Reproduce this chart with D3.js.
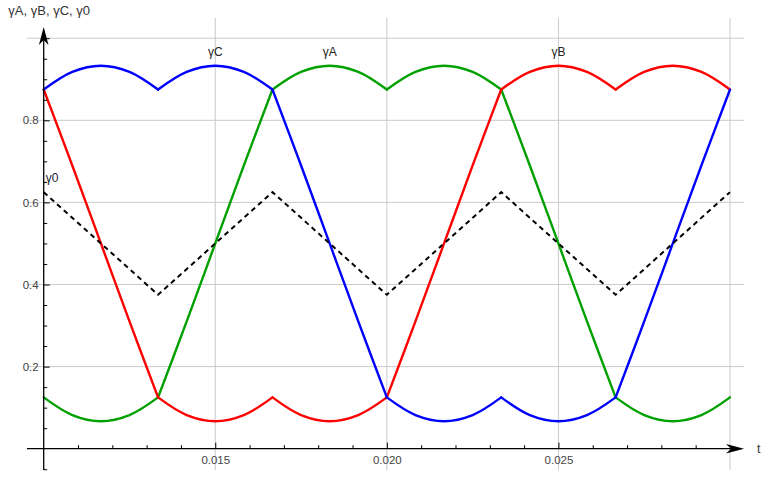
<!DOCTYPE html>
<html>
<head>
<meta charset="utf-8">
<script src="https://cdn.jsdelivr.net/npm/d3@7"></script>
<style>
  html, body { margin: 0; padding: 0; background: #fff; }
  svg { display: block; font-family: "Liberation Sans", Arial, sans-serif; }
</style>
</head>
<body>
<div id="chart"></div>
<script>
// ---------- data ----------
const tValues = [0.01, 0.010833, 0.011667, 0.0125, 0.013333, 0.014167, 0.015, 0.015833,
  0.016667, 0.0175, 0.018333, 0.019167, 0.02, 0.020833, 0.021667, 0.0225, 0.023333,
  0.024167, 0.025, 0.025833, 0.026667, 0.0275, 0.028333, 0.029167, 0.03];

const gammaA = [0.125, 0.082, 0.067, 0.082, 0.125, 0.31, 0.5, 0.69,
  0.875, 0.918, 0.933, 0.918, 0.875, 0.918, 0.933, 0.918, 0.875,
  0.69, 0.5, 0.31, 0.125, 0.082, 0.067, 0.082, 0.125];

const gammaB = [0.875, 0.69, 0.5, 0.31, 0.125, 0.082, 0.067, 0.082,
  0.125, 0.082, 0.067, 0.082, 0.125, 0.31, 0.5, 0.69, 0.875,
  0.918, 0.933, 0.918, 0.875, 0.918, 0.933, 0.918, 0.875];

const gammaC = [0.875, 0.918, 0.933, 0.918, 0.875, 0.918, 0.933, 0.918,
  0.875, 0.69, 0.5, 0.31, 0.125, 0.082, 0.067, 0.082, 0.125,
  0.082, 0.067, 0.082, 0.125, 0.31, 0.5, 0.69, 0.875];

// corner (cusp) sample indices where the curves have kinks
const cuspIdx = [0, 4, 8, 12, 16, 20, 24];

const gamma0T = [0.01, 0.013333, 0.016667, 0.02, 0.023333, 0.026667, 0.03];
const gamma0 = [0.625, 0.375, 0.625, 0.375, 0.625, 0.375, 0.625];

const xTickLabels = [0.015, 0.020, 0.025];
const yTickLabels = [0.2, 0.4, 0.6, 0.8];
const xGrid = [0.015, 0.020, 0.025, 0.030];
const yGrid = [0.2, 0.4, 0.6, 0.8, 1.0];
const xMinorTicks = [0.011, 0.012, 0.013, 0.014, 0.016, 0.017, 0.018, 0.019,
  0.021, 0.022, 0.023, 0.024, 0.026, 0.027, 0.028, 0.029];
const xMajorTicks = [0.015, 0.020, 0.025];
const yMinorTicks = [-0.05, 0.05, 0.1, 0.15, 0.25, 0.3, 0.35, 0.45, 0.5, 0.55,
  0.65, 0.7, 0.75, 0.85, 0.9, 0.95];
const yMajorTicks = [0.2, 0.4, 0.6, 0.8, 1.0];

const series = [
  { name: "γA", values: gammaA, color: "#00a000", labelT: 0.018333 },
  { name: "γB", values: gammaB, color: "#ff0000", labelT: 0.025 },
  { name: "γC", values: gammaC, color: "#0000ff", labelT: 0.015 }
];

// ---------- layout ----------
const W = 770, H = 497;
const svg = d3.select("#chart").append("svg").attr("width", W).attr("height", H);

const x = d3.scaleLinear().domain([0.01, 0.03]).range([43.7, 730]);
const y = d3.scaleLinear().domain([0, 1]).range([448.7, 38.2]);

const plotLeft = 27, plotRight = 744, plotTop = 18, plotBottom = 470;

// gridlines
svg.append("g").selectAll("line").data(xGrid).join("line")
  .attr("x1", d => x(d)).attr("x2", d => x(d))
  .attr("y1", plotTop).attr("y2", plotBottom)
  .attr("stroke", "#cacaca").attr("stroke-width", 1);
svg.append("g").selectAll("line").data(yGrid).join("line")
  .attr("x1", plotLeft).attr("x2", plotRight)
  .attr("y1", d => y(d)).attr("y2", d => y(d))
  .attr("stroke", "#cacaca").attr("stroke-width", 1);

// ---------- curves ----------
const line = d3.line().x(d => x(d[0])).y(d => y(d[1])).curve(d3.curveCatmullRom.alpha(0.5));
series.forEach(s => {
  const g = svg.append("g");
  for (let i = 0; i < cuspIdx.length - 1; i++) {
    const pts = [];
    for (let k = cuspIdx[i]; k <= cuspIdx[i + 1]; k++) pts.push([tValues[k], s.values[k]]);
    g.append("path").attr("d", line(pts))
      .attr("fill", "none").attr("stroke", s.color)
      .attr("stroke-width", 2.4).attr("stroke-linecap", "round").attr("stroke-linejoin", "round");
  }
});

svg.append("path")
  .attr("d", d3.line().x(d => x(d[0])).y(d => y(d[1]))(gamma0T.map((t, i) => [t, gamma0[i]])))
  .attr("fill", "none").attr("stroke", "#000").attr("stroke-width", 2)
  .attr("stroke-dasharray", "5,4");

// ---------- axes ----------
const axisColor = "#000";
svg.append("line").attr("x1", plotLeft).attr("x2", 736).attr("y1", y(0)).attr("y2", y(0))
  .attr("stroke", axisColor).attr("stroke-width", 1.3);
svg.append("line").attr("x1", x(0.01)).attr("x2", x(0.01)).attr("y1", plotBottom).attr("y2", 34)
  .attr("stroke", axisColor).attr("stroke-width", 1.3);

const xMinorAxis = d3.axisBottom(x).tickValues(xMinorTicks).tickSize(-3.5).tickFormat("");
const xMajorAxis = d3.axisBottom(x).tickValues(xMajorTicks).tickSize(-6).tickFormat("");
const xLabelAxis = d3.axisBottom(x).tickValues(xTickLabels).tickSize(0).tickPadding(7)
  .tickFormat(d3.format(".3f"));
[xMinorAxis, xMajorAxis, xLabelAxis].forEach(a => {
  const g = svg.append("g").attr("transform", `translate(0,${y(0)})`).call(a);
  g.select(".domain").remove();
  g.selectAll("line").attr("stroke", axisColor);
  g.selectAll("text").attr("fill", "#444").attr("font-size", 11.5)
    .attr("font-family", "'Liberation Sans', Arial, sans-serif");
});

const yMinorAxis = d3.axisRight(y).tickValues(yMinorTicks).tickSize(3.5).tickFormat("");
const yMajorAxis = d3.axisRight(y).tickValues(yMajorTicks).tickSize(6).tickFormat("");
const yLabelAxis = d3.axisLeft(y).tickValues(yTickLabels).tickSize(0).tickPadding(5)
  .tickFormat(d3.format(".1f"));
[yMinorAxis, yMajorAxis, yLabelAxis].forEach(a => {
  const g = svg.append("g").attr("transform", `translate(${x(0.01)},0)`).call(a);
  g.select(".domain").remove();
  g.selectAll("line").attr("stroke", axisColor);
  g.selectAll("text").attr("fill", "#444").attr("font-size", 11.5)
    .attr("font-family", "'Liberation Sans', Arial, sans-serif");
});

// arrowheads (notched)
function arrow(tipX, tipY, dir) {
  const L = 18, Wd = 4.8, N = 13;
  let pts;
  if (dir === "right") {
    pts = [[tipX, tipY], [tipX - L, tipY - Wd], [tipX - N, tipY], [tipX - L, tipY + Wd]];
  } else {
    pts = [[tipX, tipY], [tipX - Wd, tipY + L], [tipX, tipY + N], [tipX + Wd, tipY + L]];
  }
  svg.append("path").attr("d", "M" + pts.map(p => p.join(",")).join("L") + "Z").attr("fill", "#000");
}
arrow(744, y(0), "right");
arrow(x(0.01), 27, "up");

// axis labels
svg.append("text").attr("x", 757).attr("y", y(0) + 4).attr("font-size", 12.5)
  .attr("fill", "#333").text("t");
svg.append("text").attr("x", 90).attr("y", 15).attr("text-anchor", "end").attr("font-size", 13)
  .attr("fill", "#333").text("γA, γB, γC, γ0");

// curve labels
series.forEach(s => {
  svg.append("text").attr("x", x(s.labelT)).attr("y", 56).attr("text-anchor", "middle")
    .attr("font-size", 12).attr("fill", "#222").text(s.name);
});
svg.append("text").attr("x", 52).attr("y", 182).attr("text-anchor", "middle")
  .attr("font-size", 12).attr("fill", "#223").text("γ0");
</script>
</body>
</html>
